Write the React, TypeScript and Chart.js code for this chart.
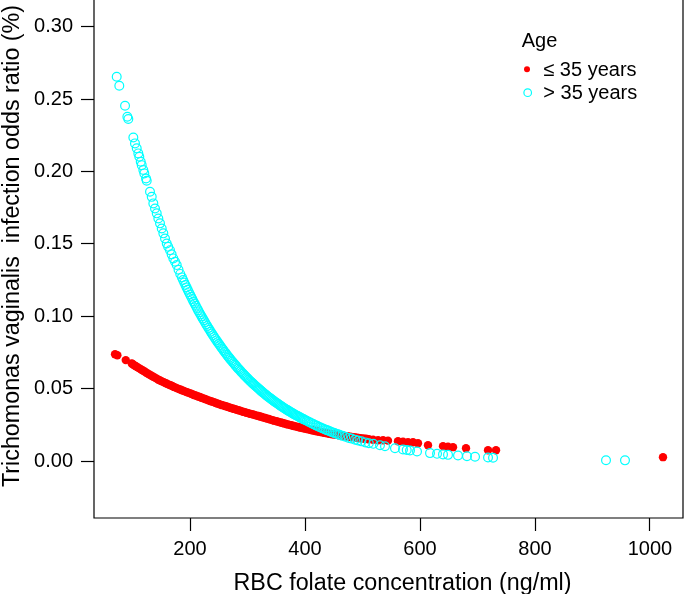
import React, { useEffect, useRef } from "react";
import { Chart, registerables } from "chart.js";

Chart.register(...registerables);

const xTicks = [200, 400, 600, 800, 1000];
const yTicks = [0, 0.05, 0.1, 0.15, 0.2, 0.25, 0.3];
const legendTitle = "Age";
const seriesLabels = ["≤ 35 years", "> 35 years"];
const xTitle = "RBC folate concentration (ng/ml)";
const yTitle = "Trichomonas vaginalis  infection odds ratio (%)";

// ≤ 35 years (red, filled)
const youngPoints: [number, number][] = [
  [69.6, 0.0739], [73.6, 0.0732], [88.2, 0.0698], [98.6, 0.0675],
  [100, 0.0671], [103, 0.0663], [106, 0.0656], [109, 0.0648], [112, 0.0641], [115, 0.0633], [118, 0.0626], [121, 0.0619],
  [124, 0.0611], [127, 0.0604], [130, 0.0597], [133, 0.059], [136, 0.0583], [139, 0.0577], [142, 0.057], [145, 0.0563],
  [148, 0.0557], [151, 0.0551], [154, 0.0546], [157, 0.054], [160, 0.0535], [163, 0.0529], [166, 0.0524], [169, 0.0519],
  [172, 0.0513], [175, 0.0508], [178, 0.0503], [181, 0.0498], [184, 0.0493], [187, 0.0488], [190, 0.0484], [193, 0.0479],
  [196, 0.0475], [199, 0.047], [202, 0.0466], [205, 0.0461], [208, 0.0456], [211, 0.0452], [214, 0.0447], [217, 0.0443],
  [220, 0.0438], [223, 0.0434], [226, 0.0429], [229, 0.0425], [232, 0.042], [235, 0.0416], [238, 0.0412], [241, 0.0408],
  [244, 0.0404], [247, 0.0399], [250, 0.0395], [253, 0.0391], [256, 0.0387], [259, 0.0384], [262, 0.038], [265, 0.0376],
  [268, 0.0372], [271, 0.0368], [274, 0.0364], [277, 0.0361], [280, 0.0357], [283, 0.0353], [286, 0.035], [289, 0.0346],
  [292, 0.0342], [295, 0.0339], [298, 0.0335], [301, 0.0332], [304, 0.0328], [307, 0.0325], [310, 0.0322], [313, 0.0318],
  [316, 0.0315], [319, 0.0312], [322, 0.0309], [325, 0.0305], [328, 0.0301], [331, 0.0298], [334, 0.0294], [337, 0.0291],
  [340, 0.0287], [343, 0.0284], [346, 0.028], [349, 0.0277], [352, 0.0274], [355, 0.027], [358, 0.0267], [361, 0.0264],
  [364, 0.0261], [367, 0.0257], [370, 0.0254], [373, 0.0251], [376, 0.0248], [379, 0.0245], [382, 0.0242], [385, 0.0239],
  [388, 0.0236], [391, 0.0233], [394, 0.0231], [397, 0.0228], [400, 0.0225], [403, 0.0222], [406, 0.022], [409, 0.0217],
  [412, 0.0214], [415, 0.0212], [418, 0.0209], [421, 0.0207], [424, 0.0204], [427, 0.0202], [430, 0.0199], [433, 0.0197],
  [436, 0.0194], [439, 0.0192], [442, 0.019], [445, 0.0188], [448, 0.0186], [451, 0.0185], [454, 0.0183], [457, 0.0181],
  [460, 0.0179], [463, 0.0177], [466, 0.0176], [469, 0.0174], [472, 0.0172], [475, 0.0171], [478, 0.0169], [481, 0.0167],
  [484, 0.0166], [487, 0.0164], [490, 0.0162], [493, 0.0161], [496, 0.0159], [499, 0.0158], [502, 0.0156], [505, 0.0155],
  [508, 0.0153], [511, 0.0152],
  [518.3, 0.0148], [527, 0.0145], [535.7, 0.0145], [544.3, 0.0142], [561.7, 0.0138], [570.4, 0.0135], [579.1, 0.0131],
  [587.8, 0.0131], [596.5, 0.0124], [613.9, 0.011], [640, 0.0104], [648.7, 0.01], [657.4, 0.0097], [680, 0.009],
  [718.3, 0.0076], [732.2, 0.0076], [1022.6, 0.0028],
];

// > 35 years (cyan, open)
const olderPoints: [number, number][] = [
  [72.5, 0.2654], [77, 0.2592], [87, 0.2454], [91, 0.2378], [92.7, 0.2362],
  [101.4, 0.2235], [104.3, 0.2194], [107.3, 0.216], [110.1, 0.2125], [111.8, 0.2102], [114.3, 0.2067], [116, 0.2044],
  [118.8, 0.201], [120.5, 0.1987], [123.5, 0.1952], [124.7, 0.1936],
  [130.4, 0.186], [133.4, 0.1825], [136.2, 0.178], [139.1, 0.1745], [142.1, 0.1711], [144.9, 0.1676], [147.8, 0.1642],
  [150.8, 0.1607], [153.6, 0.1573], [156.5, 0.1538], [159.5, 0.1503], [162, 0.148], [165.2, 0.1457], [168, 0.1428],
  [171, 0.14], [174, 0.1377], [176.9, 0.1354], [180, 0.1322], [183, 0.1293],
  [186, 0.1269], [188, 0.1251], [190, 0.1234], [192, 0.1217], [194, 0.12], [196, 0.1183], [198, 0.1167], [200, 0.1151],
  [202, 0.1135], [204, 0.1119], [206, 0.1103], [208, 0.1088], [210, 0.1073], [212, 0.1058], [214, 0.1043], [216, 0.1029],
  [218, 0.1014], [220, 0.1], [222, 0.0986], [224, 0.0973], [226, 0.0959], [228, 0.0946], [230, 0.0933], [232, 0.092],
  [234, 0.0907], [236, 0.0894], [238, 0.0882], [240, 0.087], [242, 0.0858], [244, 0.0846], [246, 0.0834], [248, 0.0822],
  [250, 0.0811], [252, 0.08], [254, 0.0789], [256, 0.0778], [258, 0.0767], [260, 0.0756], [262, 0.0746], [264, 0.0735],
  [266, 0.0725], [268, 0.0715], [270, 0.0705], [272, 0.0695], [274, 0.0686], [276, 0.0676], [278, 0.0667], [280, 0.0658],
  [282, 0.0648], [284, 0.0639], [286, 0.0631], [288, 0.0622], [290, 0.0613], [292, 0.0605], [294, 0.0596], [296, 0.0588],
  [298, 0.058], [300, 0.0572], [302, 0.0564], [304, 0.0556], [306, 0.0549], [308, 0.0541], [310, 0.0534], [312, 0.0526],
  [314, 0.0519], [316, 0.0512], [318, 0.0505], [320, 0.0498], [322, 0.0491], [324, 0.0484], [326, 0.0477], [328, 0.0471],
  [330, 0.0464], [332, 0.0458], [334, 0.0451], [336, 0.0445], [338, 0.0439], [340, 0.0433], [342, 0.0427], [344, 0.0421],
  [346, 0.0415], [348, 0.0409], [350, 0.0404], [352, 0.0398], [354, 0.0393], [356, 0.0387], [358, 0.0382], [360, 0.0376],
  [362, 0.0371], [364, 0.0366], [366, 0.0361], [368, 0.0356], [370, 0.0351], [372, 0.0346], [374, 0.0341], [376, 0.0337],
  [378, 0.0332], [380, 0.0327], [382, 0.0323], [384, 0.0318], [386, 0.0314], [388, 0.031], [390, 0.0305], [392, 0.0301],
  [394, 0.0297], [396, 0.0293], [398, 0.0289], [400, 0.0285],
  [403, 0.0279], [406, 0.0273], [409, 0.0267], [412, 0.0261], [415, 0.0255], [418, 0.0249], [421, 0.0244], [424, 0.0238],
  [427, 0.0233], [430, 0.0228], [433, 0.0223], [436, 0.0218], [439, 0.0213], [442, 0.0208], [445, 0.0204], [448, 0.0199],
  [451, 0.0195], [454, 0.019], [457, 0.0186], [460, 0.0182], [465, 0.0175], [470, 0.0169], [476, 0.0161], [481, 0.0156],
  [487, 0.0149], [492, 0.0143], [498, 0.0137], [505, 0.013], [511, 0.0124],
  [518.8, 0.012], [530.4, 0.011], [539.1, 0.0103], [556.5, 0.009], [570.4, 0.0081], [576.9, 0.0077], [582.6, 0.0074],
  [594.8, 0.0067], [617.4, 0.0056], [629.6, 0.0051], [640, 0.0047], [648.7, 0.0044], [666.1, 0.0039], [681.7, 0.0034],
  [695.7, 0.0031], [718.3, 0.0026], [727, 0.0024], [923.5, 0.0007], [956.5, 0.0006],
];

const FONT = '"Liberation Sans", Arial, Helvetica, sans-serif';
const RED = "#FF0000";
const CYAN = "#00FFFF";

const framePlugin = {
  id: "rframe",
  afterDraw(chart: any) {
    const { ctx, chartArea: a } = chart;
    ctx.save();
    ctx.strokeStyle = "#000";
    ctx.lineWidth = 1.2;
    ctx.beginPath();
    ctx.moveTo(a.left, a.top);
    ctx.lineTo(a.left, a.bottom);
    ctx.lineTo(a.right, a.bottom);
    ctx.lineTo(a.right, a.top);
    ctx.stroke();

    // axis titles
    ctx.fillStyle = "#000";
    ctx.font = `23.3px ${FONT}`;
    ctx.textAlign = "center";
    ctx.textBaseline = "alphabetic";
    ctx.fillText(xTitle, 402.5, 590);
    ctx.save();
    ctx.translate(18.7, 246);
    ctx.rotate(-Math.PI / 2);
    ctx.fillText(yTitle, 0, 0);
    ctx.restore();

    // legend
    ctx.font = `20px ${FONT}`;
    ctx.textAlign = "left";
    ctx.fillText(legendTitle, 521.7, 46.7);
    ctx.fillText(seriesLabels[0], 543.3, 75.7);
    ctx.fillText(seriesLabels[1], 543.3, 99);
    ctx.fillStyle = RED;
    ctx.beginPath();
    ctx.arc(527, 69.3, 3, 0, Math.PI * 2);
    ctx.fill();
    ctx.strokeStyle = CYAN;
    ctx.lineWidth = 1.2;
    ctx.beginPath();
    ctx.arc(527.7, 92.7, 3.8, 0, Math.PI * 2);
    ctx.stroke();
    ctx.restore();
  },
};

export default function App() {
  const ref = useRef<HTMLCanvasElement | null>(null);

  useEffect(() => {
    if (!ref.current) return;
    const chart = new Chart(ref.current, {
      type: "scatter",
      data: {
        datasets: [
          {
            label: seriesLabels[1],
            data: olderPoints.map(([x, y]) => ({ x, y })),
            pointRadius: 4.4,
            pointBorderWidth: 1.2,
            pointBorderColor: CYAN,
            pointBackgroundColor: "rgba(0,0,0,0)",
            borderColor: CYAN,
            backgroundColor: "rgba(0,0,0,0)",
            order: 0,
          },
          {
            label: seriesLabels[0],
            data: youngPoints.map(([x, y]) => ({ x, y })),
            pointRadius: 4.2,
            pointBorderWidth: 0,
            pointBackgroundColor: RED,
            pointBorderColor: RED,
            borderColor: RED,
            backgroundColor: RED,
            order: 1,
          },
        ],
      },
      options: {
        animation: false,
        responsive: false,
        devicePixelRatio: 1,
        layout: { autoPadding: false, padding: { left: 0, right: 2, top: 0, bottom: 0 } },
        plugins: { legend: { display: false }, tooltip: { enabled: false }, title: { display: false } },
        scales: {
          x: {
            type: "linear",
            min: 33,
            max: 1057.4,
            afterBuildTicks: (s: any) => {
              s.ticks = xTicks.map((v) => ({ value: v }));
            },
            afterFit: (s: any) => {
              s.height = 76;
              s.paddingLeft = 0;
              s.paddingRight = 0;
              s.paddingTop = 0;
              s.paddingBottom = 0;
            },
            ticks: {
              color: "#000",
              font: { family: FONT, size: 20 },
              padding: 6,
              maxRotation: 0,
              autoSkip: false,
              callback: (v: any) => String(v),
            },
            grid: {
              display: true,
              drawOnChartArea: false,
              drawTicks: true,
              tickLength: 13,
              tickColor: "#000",
              tickWidth: 1.2,
            },
            border: { display: false },
          },
          y: {
            type: "linear",
            min: -0.0392,
            max: 0.3184,
            afterBuildTicks: (s: any) => {
              s.ticks = yTicks.map((v) => ({ value: v }));
            },
            afterFit: (s: any) => {
              s.width = 94;
              s.paddingLeft = 0;
              s.paddingRight = 0;
              s.paddingTop = 0;
              s.paddingBottom = 0;
            },
            ticks: {
              color: "#000",
              font: { family: FONT, size: 20 },
              padding: 8,
              autoSkip: false,
              callback: (v: any) => Number(v).toFixed(2),
            },
            grid: {
              display: true,
              drawOnChartArea: false,
              drawTicks: true,
              tickLength: 13,
              tickColor: "#000",
              tickWidth: 1.2,
            },
            border: { display: false },
          },
        },
      },
      plugins: [framePlugin],
    } as any);
    return () => chart.destroy();
  }, []);

  return (
    <div style={{ position: "absolute", left: 0, top: 0, width: 685, height: 594, background: "#fff" }}>
      <canvas ref={ref} width={685} height={594} style={{ display: "block" }} />
    </div>
  );
}
